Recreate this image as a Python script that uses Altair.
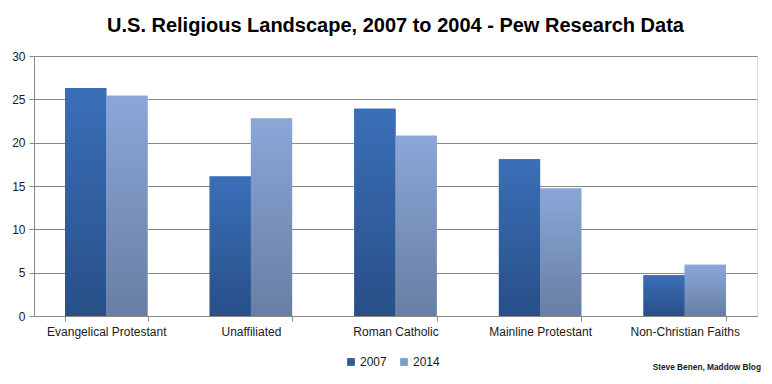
import altair as alt
import pandas as pd

categories = ["Evangelical Protestant", "Unaffiliated", "Roman Catholic",
              "Mainline Protestant", "Non-Christian Faiths"]
years = ["2007", "2014"]
values_2007 = [26.3, 16.1, 23.9, 18.1, 4.7]
values_2014 = [25.4, 22.8, 20.8, 14.7, 5.9]
y_ticks = [0, 5, 10, 15, 20, 25, 30]
title_text = "U.S. Religious Landscape, 2007 to 2004 - Pew Research Data"
credit_text = ["Steve Benen, Maddow Blog"]

df = pd.DataFrame({
    "category": categories * 2,
    "year": [years[0]] * len(categories) + [years[1]] * len(categories),
    "value": values_2007 + values_2014,
})

W, H = 723, 260
FONT = "Liberation Sans"
GRID = "#8a8a8a"

grad_2007 = alt.LinearGradient(
    gradient="linear", x1=0, x2=0, y1=0, y2=1,
    stops=[alt.GradientStop(color="#3a6fb8", offset=0),
           alt.GradientStop(color="#284f88", offset=1)])
grad_2014 = alt.LinearGradient(
    gradient="linear", x1=0, x2=0, y1=0, y2=1,
    stops=[alt.GradientStop(color="#8aa7d8", offset=0),
           alt.GradientStop(color="#687ea4", offset=1)])

base = alt.Chart(df).encode(
    x=alt.X("category:N", sort=categories,
            scale=alt.Scale(paddingInner=0.43, paddingOuter=0.215),
            axis=alt.Axis(title=None, labelAngle=0, tickBand="extent",
                          grid=False, domainColor=GRID, tickColor=GRID,
                          tickSize=5, labelFontSize=12, labelFont=FONT,
                          labelColor="#1a1a1a", labelPadding=5)),
    xOffset=alt.XOffset("year:N",
                        scale=alt.Scale(domain=years, paddingInner=0, paddingOuter=0)),
    y=alt.Y("value:Q", scale=alt.Scale(domain=[0, 30]),
            axis=alt.Axis(title=None, values=y_ticks, grid=True, gridColor=GRID,
                          gridOpacity=1, domainColor=GRID, tickColor=GRID,
                          tickSize=5, labelFontSize=12, labelFont=FONT,
                          labelColor="#1a1a1a", labelPadding=4)),
)

legend_bars = base.mark_bar().encode(
    color=alt.Color("year:N",
                    scale=alt.Scale(domain=years, range=["#2f5a99", "#7f9bc8"]),
                    legend=alt.Legend(title=None, orient="none", direction="horizontal",
                                      legendX=311, legendY=300,
                                      symbolType="square", symbolSize=60,
                                      symbolStrokeWidth=0, symbolOffset=0,
                                      labelFontSize=12, labelFont=FONT,
                                      labelOffset=3,
                                      labelColor="#1a1a1a", columnPadding=11)),
)

bars_2007 = base.mark_bar(color=grad_2007).transform_filter(
    alt.datum.year == years[0])
bars_2014 = base.mark_bar(color=grad_2014).transform_filter(
    alt.datum.year == years[1])

credit = alt.Chart(pd.DataFrame({"t": credit_text})).mark_text(
    align="right", baseline="alphabetic", font=FONT, fontSize=8.3,
    fontWeight="bold", color="#1a1a1a"
).encode(text="t:N", x=alt.value(W + 4), y=alt.value(H + 54))

chart = alt.layer(legend_bars, bars_2007, bars_2014, credit).properties(
    width=W, height=H,
    title=alt.TitleParams(title_text, font=FONT, fontSize=20, fontWeight="bold",
                          color="#000000", anchor="middle", offset=14),
    autosize=alt.AutoSizeParams(type="none"),
    padding={"left": 26, "top": 48, "right": 7, "bottom": 60},
).configure_view(strokeWidth=0).configure(background="white")

chart.save("out.html", embed_options={"renderer": "svg", "actions": False})
